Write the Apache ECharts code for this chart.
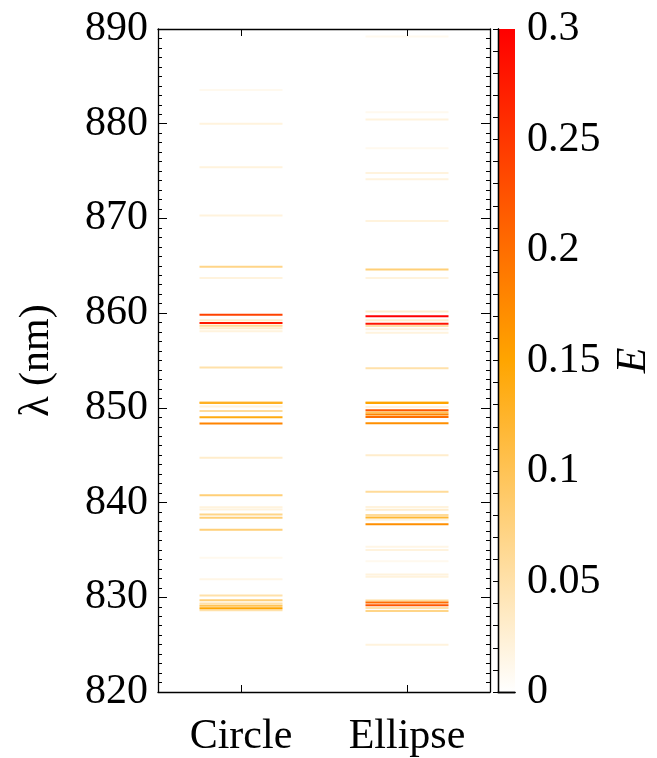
<!DOCTYPE html>
<html><head><meta charset="utf-8">
<script src="https://cdn.jsdelivr.net/npm/echarts@6/dist/echarts.min.js"></script>
<style>html,body{margin:0;padding:0;background:#fff}#c{width:657px;height:758px}</style>
</head><body><div id="c"></div>
<script>
const categories = ['Circle', 'Ellipse'];
const yTicks = [820, 830, 840, 850, 860, 870, 880, 890];
const cbTicks = [0, 0.05, 0.1, 0.15, 0.2, 0.25, 0.3];

const circleLambda = [883.55, 880.0, 875.4, 870.3, 864.9, 863.7, 859.83, 859.26, 858.95, 858.67, 858.4, 858.1,
  854.26, 850.6, 850.5, 850.14, 849.67, 849.0, 848.34, 844.74, 840.76, 839.5, 839.28, 838.75, 838.4, 837.13,
  834.17, 831.9, 830.18, 829.7, 829.34, 829.1, 828.85, 828.64];
const circleE = [0.01, 0.02, 0.02, 0.02, 0.07, 0.02, 0.24, 0.03, 0.28, 0.06, 0.03, 0.02,
  0.05, 0.07, 0.13, 0.02, 0.06, 0.14, 0.18, 0.03, 0.08, 0.02, 0.02, 0.07, 0.08, 0.08,
  0.01, 0.015, 0.05, 0.08, 0.05, 0.1, 0.15, 0.05];

const ellipseLambda = [889.2, 881.2, 880.45, 877.4, 874.8, 874.14, 869.73, 864.6, 863.7, 860.18, 859.68, 859.26,
  858.88, 858.63, 858.3, 857.93, 854.19, 850.63, 850.5, 850.1, 849.75, 849.5, 849.3, 849.04, 848.37, 844.99,
  841.15, 839.53, 839.24, 838.68, 838.43, 838.19, 837.7, 835.33, 835.0, 833.8, 832.4, 832.16,
  829.66, 829.45, 829.17, 828.88, 828.56, 825.0];
const ellipseE = [0.01, 0.01, 0.02, 0.01, 0.02, 0.02, 0.02, 0.08, 0.02, 0.03, 0.3, 0.03,
  0.28, 0.05, 0.02, 0.02, 0.05, 0.06, 0.15, 0.02, 0.22, 0.1, 0.18, 0.2, 0.17, 0.03,
  0.06, 0.02, 0.03, 0.06, 0.12, 0.02, 0.17, 0.015, 0.02, 0.01, 0.02, 0.02,
  0.06, 0.2, 0.22, 0.05, 0.07, 0.02];

const eMax = 0.3;
const FONT = "'Liberation Serif', 'Times New Roman', serif";

const lineData = [];
circleLambda.forEach((l, i) => lineData.push([0, l, circleE[i]]));
ellipseLambda.forEach((l, i) => lineData.push([1, l, ellipseE[i]]));
lineData.sort((a, b) => a[2] - b[2]);

const axisLine = { show: true, lineStyle: { color: '#000', width: 1.3 } };

const chart = echarts.init(document.getElementById('c'), null, { renderer: 'canvas' });
chart.setOption({
  animation: false,
  backgroundColor: '#fff',
  grid: [
    { left: 158, right: 167, top: 29, bottom: 66, containLabel: false, outerBoundsMode: 'none' },
    { left: 498, width: 17, top: 29, bottom: 66, show: false, containLabel: false, outerBoundsMode: 'none' }
  ],
  visualMap: {
    type: 'continuous', show: false, min: 0, max: eMax, dimension: 2, seriesIndex: 0,
    inRange: { color: ['#ffffff', '#ffa500', '#ff0000'] }
  },
  xAxis: [
    { type: 'category', gridIndex: 0, position: 'bottom', data: categories, boundaryGap: true, z: 5,
      axisLine: axisLine,
      axisTick: { show: true, inside: true, alignWithLabel: true, length: 7, lineStyle: { color: '#000' } },
      axisLabel: { color: '#000', fontFamily: FONT, fontSize: 42, margin: 24 },
      splitLine: { show: false } },
    { type: 'category', gridIndex: 0, position: 'top', data: categories, boundaryGap: true, z: 5,
      axisLine: axisLine,
      axisTick: { show: true, inside: true, alignWithLabel: true, length: 7, lineStyle: { color: '#000' } },
      axisLabel: { show: false }, splitLine: { show: false } },
    { type: 'value', gridIndex: 1, position: 'bottom', min: 0, max: 1, z: 5,
      axisLine: axisLine, axisTick: { show: false }, axisLabel: { show: false }, splitLine: { show: false } },
    { type: 'value', gridIndex: 1, position: 'top', min: 0, max: 1, z: 5,
      axisLine: axisLine, axisTick: { show: false }, axisLabel: { show: false }, splitLine: { show: false } }
  ],
  yAxis: [
    { type: 'value', gridIndex: 0, min: yTicks[0], max: yTicks[yTicks.length - 1], interval: 10, z: 5,
      axisLine: axisLine,
      axisTick: { show: true, inside: true, length: 9, lineStyle: { color: '#000' } },
      minorTick: { show: true, splitNumber: 10, length: 4, lineStyle: { color: '#000' } },
      axisLabel: { color: '#000', fontFamily: FONT, fontSize: 42, margin: 10 },
      splitLine: { show: false },
      name: 'λ (nm)', nameLocation: 'middle', nameGap: 100,
      nameTextStyle: { color: '#000', fontFamily: FONT, fontSize: 42 } },
    { type: 'value', gridIndex: 0, position: 'right', min: yTicks[0], max: yTicks[yTicks.length - 1], interval: 10, z: 5,
      axisLine: axisLine,
      axisTick: { show: true, inside: true, length: 9, lineStyle: { color: '#000' } },
      minorTick: { show: true, splitNumber: 10, length: 4, lineStyle: { color: '#000' } },
      axisLabel: { show: false }, splitLine: { show: false } },
    { type: 'value', gridIndex: 1, position: 'right', min: cbTicks[0], max: cbTicks[cbTicks.length - 1], interval: 0.05, z: 5,
      axisLine: axisLine,
      axisTick: { show: true, inside: true, length: 5, lineStyle: { color: '#000' } },
      minorTick: { show: true, splitNumber: 5, length: 5, lineStyle: { color: '#000' } },
      axisLabel: { color: '#000', fontFamily: FONT, fontSize: 42, margin: 12 },
      splitLine: { show: false },
      name: 'E', nameLocation: 'middle', nameGap: 98, nameRotate: 90,
      nameTextStyle: { color: '#000', fontFamily: FONT, fontSize: 42, fontStyle: 'italic' } },
    { type: 'value', gridIndex: 1, position: 'left', min: cbTicks[0], max: cbTicks[cbTicks.length - 1], z: 5,
      axisLine: axisLine, axisTick: { show: false }, axisLabel: { show: false }, splitLine: { show: false } }
  ],
  series: [
    {
      type: 'custom', xAxisIndex: 0, yAxisIndex: 0, data: lineData, z: 2,
      renderItem: function (params, api) {
        const p = api.coord([api.value(0), api.value(1)]);
        const bw = api.size([1, 0])[0];
        const half = bw * 0.25;
        return {
          type: 'line',
          shape: { x1: p[0] - half, y1: p[1], x2: p[0] + half, y2: p[1] },
          style: { stroke: api.visual('color'), lineWidth: 2 }
        };
      }
    },
    {
      type: 'custom', xAxisIndex: 2, yAxisIndex: 2, data: [[0, 0, 1, eMax]], z: 1,
      renderItem: function (params, api) {
        const p0 = api.coord([api.value(0), api.value(1)]);
        const p1 = api.coord([api.value(2), api.value(3)]);
        return {
          type: 'rect',
          shape: { x: p0[0], y: p1[1], width: p1[0] - p0[0], height: p0[1] - p1[1] },
          style: {
            fill: new echarts.graphic.LinearGradient(0, 1, 0, 0, [
              { offset: 0, color: '#ffffff' },
              { offset: 0.5, color: '#ffa500' },
              { offset: 1, color: '#ff0000' }
            ])
          }
        };
      }
    }
  ]
});
</script></body></html>
